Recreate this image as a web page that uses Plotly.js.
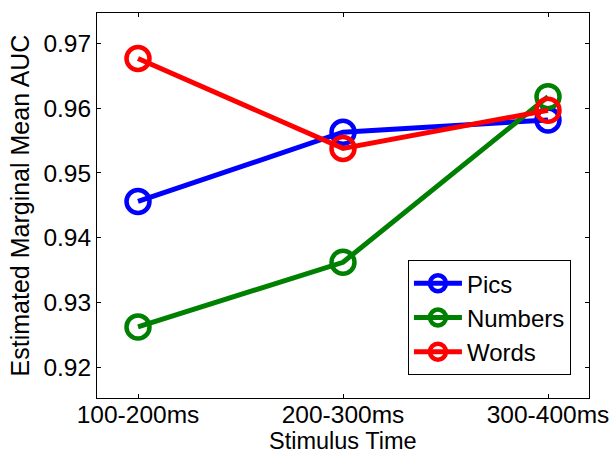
<!DOCTYPE html>
<html>
<head>
<meta charset="utf-8">
<script src="https://cdn.plot.ly/plotly-3.0.1.min.js"></script>
<style>html,body{margin:0;padding:0;background:#fff;}#chart{width:612px;height:453px;}</style>
</head>
<body>
<div id="chart"></div>
<script>
const categories = ["100-200ms", "200-300ms", "300-400ms"];
const pics = [0.9456, 0.9563, 0.9582];
const numbers = [0.9262, 0.9362, 0.9618];
const words = [0.9677, 0.9538, 0.9597];
const yTicks = [0.92, 0.93, 0.94, 0.95, 0.96, 0.97];
const xTitle = "Stimulus Time";
const yTitle = "Estimated Marginal Mean AUC";

const FONT = "Liberation Sans, Arial, Helvetica, sans-serif";

function series(name, y, color) {
  return {
    x: categories, y: y, name: name, type: "scatter", mode: "lines+markers",
    line: {color: color, width: 5},
    marker: {symbol: "circle-open", size: 23, color: color, line: {width: 4.5, color: color}}
  };
}

const data = [
  series("Pics", pics, "#0000ff"),
  series("Numbers", numbers, "#008000"),
  series("Words", words, "#ff0000")
];

const layout = {
  width: 612, height: 453,
  margin: {l: 97, r: 23, t: 13, b: 55, pad: 0},
  paper_bgcolor: "#fff", plot_bgcolor: "#fff",
  font: {family: FONT, size: 24, color: "#000"},
  showlegend: true,
  legend: {
    x: 0.632, y: 0.358, xanchor: "left", yanchor: "top",
    bgcolor: "#fff", bordercolor: "#000", borderwidth: 1,
    font: {family: FONT, size: 24, color: "#000"},
    itemwidth: 48, tracegroupgap: 0
  },
  xaxis: {
    type: "category", range: [-0.2, 2.2],
    showline: true, linecolor: "#000", linewidth: 1, mirror: "ticks",
    ticks: "inside", ticklen: 4, tickcolor: "#000", showgrid: false, zeroline: false,
    tickfont: {family: FONT, size: 24.5}, ticklabelstandoff: -5
  },
  yaxis: {
    range: [0.91522, 0.97473], tickvals: yTicks, tickformat: ".2f",
    showline: true, linecolor: "#000", linewidth: 1, mirror: "ticks",
    ticks: "inside", ticklen: 4, tickcolor: "#000", showgrid: false, zeroline: false,
    tickfont: {family: FONT, size: 24.5},
    title: {text: yTitle, font: {family: FONT, size: 25}, standoff: 6}
  },
  annotations: [{
    text: xTitle, xref: "paper", yref: "paper", x: 0.5, y: 0,
    xanchor: "center", yanchor: "middle", yshift: -43, showarrow: false,
    borderpad: 0,
    font: {family: FONT, size: 23.5, color: "#000"}
  }]
};

Plotly.newPlot("chart", data, layout, {staticPlot: true, displayModeBar: false});
</script>
</body>
</html>
